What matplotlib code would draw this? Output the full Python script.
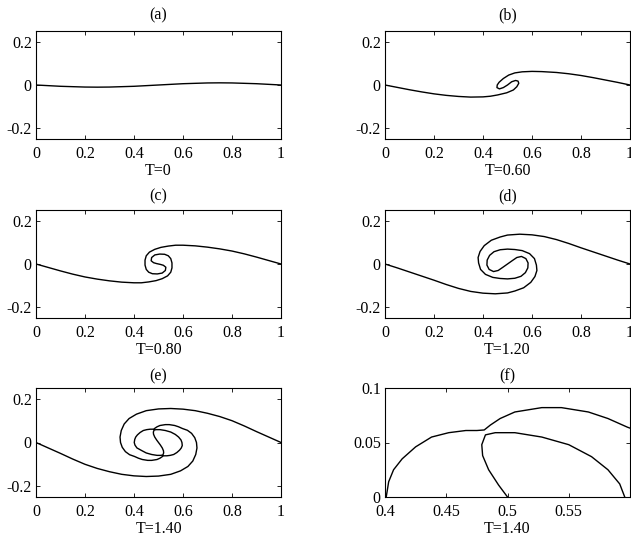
import matplotlib
matplotlib.use("Agg")
import matplotlib.pyplot as plt

# sheet position at each time (x along the sheet, y height)
t000_x = [0, 0.1, 0.2, 0.25, 0.3, 0.4, 0.5, 0.6, 0.7, 0.75, 0.8, 0.9, 1]
t000_y = [0, -0.006, -0.0095, -0.01, -0.0095, -0.006, 0, 0.006, 0.0095, 0.01, 0.0095, 0.006, 0]

t060_x = [0, 0.05, 0.1, 0.15, 0.2, 0.25, 0.3, 0.35, 0.4, 0.43, 0.46, 0.497, 0.524, 0.538,
          0.546, 0.543, 0.533, 0.517, 0.5, 0.483, 0.467, 0.457, 0.458, 0.466, 0.483, 0.505,
          0.53, 0.56, 0.6, 0.64, 0.7, 0.75, 0.8, 0.85, 0.9, 0.95, 1]
t060_y = [0, -0.011, -0.022, -0.032, -0.041, -0.048, -0.053, -0.056, -0.055, -0.052, -0.046,
          -0.036, -0.023, -0.008, 0.008, 0.018, 0.021, 0.015, 0.0, -0.012, -0.018, -0.012, 0.0,
          0.013, 0.03, 0.046, 0.056, 0.061, 0.063, 0.062, 0.058, 0.052, 0.044, 0.034, 0.023,
          0.012, 0]

t080_x = [0, 0.05, 0.1, 0.15, 0.2, 0.25, 0.3, 0.35, 0.4, 0.43, 0.46, 0.49, 0.515, 0.537,
          0.55, 0.555, 0.555, 0.55, 0.54, 0.525, 0.505, 0.485, 0.472, 0.47, 0.48, 0.492, 0.5,
          0.508, 0.52, 0.53, 0.528, 0.515, 0.495, 0.475, 0.46, 0.45, 0.445, 0.445, 0.45,
          0.463, 0.485, 0.51, 0.54, 0.57, 0.6, 0.65, 0.7, 0.75, 0.8, 0.85, 0.9, 0.95, 1]
t080_y = [0, -0.016, -0.032, -0.047, -0.06, -0.07, -0.078, -0.084, -0.087, -0.087, -0.083,
          -0.077, -0.068, -0.055, -0.038, -0.018, 0.005, 0.025, 0.038, 0.045, 0.046, 0.042,
          0.03, 0.015, 0.006, 0.002, 0, -0.002, -0.006, -0.015, -0.03, -0.042, -0.046, -0.045,
          -0.038, -0.025, -0.005, 0.018, 0.038, 0.055, 0.068, 0.077, 0.083, 0.087, 0.087,
          0.084, 0.078, 0.07, 0.06, 0.047, 0.032, 0.016, 0]

t120_x = [0, 0.05, 0.1, 0.15, 0.2, 0.25, 0.3, 0.35, 0.4, 0.45, 0.5, 0.53, 0.566, 0.595,
          0.612, 0.62, 0.618, 0.61, 0.59, 0.56, 0.53, 0.5, 0.47, 0.445, 0.427, 0.417, 0.416,
          0.425, 0.443, 0.462, 0.48, 0.5, 0.52, 0.538, 0.557, 0.575, 0.584, 0.583, 0.573,
          0.555, 0.53, 0.5, 0.47, 0.44, 0.41, 0.39, 0.382, 0.38, 0.388, 0.405, 0.434, 0.47,
          0.5, 0.55, 0.6, 0.65, 0.7, 0.75, 0.8, 0.85, 0.9, 0.95, 1]
t120_y = [0, -0.018, -0.037, -0.056, -0.075, -0.095, -0.113, -0.127, -0.135, -0.138, -0.134,
          -0.125, -0.11, -0.085, -0.058, -0.03, -0.005, 0.025, 0.048, 0.062, 0.067, 0.069,
          0.066, 0.057, 0.04, 0.018, -0.005, -0.025, -0.035, -0.03, -0.016, 0, 0.016, 0.03,
          0.035, 0.025, 0.005, -0.018, -0.04, -0.057, -0.066, -0.069, -0.067, -0.062, -0.048,
          -0.025, 0.005, 0.03, 0.058, 0.085, 0.11, 0.125, 0.134, 0.138, 0.135, 0.127, 0.113,
          0.095, 0.075, 0.056, 0.037, 0.018, 0]

t140_x = [0, 0.05, 0.1, 0.15, 0.2, 0.25, 0.3, 0.35, 0.4, 0.45, 0.5, 0.55, 0.59, 0.62, 0.64,
          0.652, 0.657, 0.655, 0.648, 0.635, 0.618, 0.598,
          0.582, 0.566, 0.544, 0.528, 0.506, 0.494, 0.486, 0.481, 0.475, 0.466, 0.452, 0.438,
          0.425, 0.414, 0.407, 0.403, 0.401,
          0.404, 0.412, 0.4314, 0.45, 0.472, 0.494, 0.51, 0.518, 0.521, 0.5203, 0.5154,
          0.5073, 0.5,
          0.4927, 0.4846, 0.4797, 0.479, 0.482, 0.49, 0.506, 0.528, 0.55, 0.5686, 0.582,
          0.5916, 0.5957,
          0.597, 0.593, 0.586, 0.575, 0.562, 0.548, 0.534, 0.525, 0.519, 0.514, 0.506, 0.494,
          0.472, 0.456, 0.434, 0.418, 0.402,
          0.382, 0.365, 0.352, 0.345, 0.343, 0.348, 0.36, 0.38, 0.41, 0.45, 0.5, 0.55, 0.6,
          0.65, 0.7, 0.75, 0.8, 0.85, 0.9, 0.95, 1]
t140_y = [0, -0.025, -0.05, -0.076, -0.1, -0.119, -0.134, -0.146, -0.153, -0.156, -0.154,
          -0.146, -0.13, -0.11, -0.085, -0.055, -0.025, 0.0, 0.022, 0.042, 0.056, 0.064,
          0.072, 0.078, 0.082, 0.082, 0.078, 0.072, 0.066, 0.0615, 0.061, 0.061, 0.059, 0.055,
          0.046, 0.035, 0.025, 0.014, 0.0,
          -0.012, -0.025, -0.037, -0.048, -0.055, -0.059, -0.059, -0.057, -0.048, -0.038,
          -0.025, -0.011, 0,
          0.011, 0.025, 0.038, 0.048, 0.057, 0.059, 0.059, 0.055, 0.048, 0.037, 0.025, 0.012, 0,
          -0.014, -0.025, -0.035, -0.046, -0.055, -0.059, -0.061, -0.061, -0.0615, -0.066,
          -0.072, -0.078, -0.082, -0.082, -0.078, -0.072, -0.064,
          -0.056, -0.042, -0.022, 0, 0.025, 0.055, 0.085, 0.11, 0.13, 0.146, 0.154, 0.156,
          0.153, 0.146, 0.134, 0.119, 0.1, 0.076, 0.05, 0.025, 0]

panel_tags = ["(a)", "(b)", "(c)", "(d)", "(e)", "(f)"]
time_labels = ["T=0", "T=0.60", "T=0.80", "T=1.20", "T=1.40", "T=1.40"]
full_xticks = [0, 0.2, 0.4, 0.6, 0.8, 1]
full_xlabels = ["0", "0.2", "0.4", "0.6", "0.8", "1"]
full_yticks = [-0.2, 0, 0.2]
full_ylabels = ["-0.2", "0", "0.2"]
zoom_xticks = [0.4, 0.45, 0.5, 0.55]
zoom_xlabels = ["0.4", "0.45", "0.5", "0.55"]
zoom_yticks = [0, 0.05, 0.1]
zoom_ylabels = ["0", "0.05", "0.1"]

plt.rcParams["font.family"] = ["Liberation Serif", "DejaVu Serif"]
plt.rcParams["font.size"] = 11.5

fig = plt.figure(figsize=(6.31, 5.37), dpi=100)
W, H = 631.0, 537.0
cols = [36, 385]
rows = [(31, 139), (210, 318), (388, 497)]
title_pads = [8, 7, 5.5]
aw = 245

curves = [(t000_x, t000_y), (t060_x, t060_y), (t080_x, t080_y),
          (t120_x, t120_y), (t140_x, t140_y), (t140_x, t140_y)]

for i in range(6):
    r, c = divmod(i, 2)
    top, bot = rows[r]
    ax = fig.add_axes([cols[c] / W, 1 - bot / H, aw / W, (bot - top) / H])
    ax.plot(curves[i][0], curves[i][1], color="black", lw=1.0)
    if i < 5:
        ax.set_xlim(0, 1)
        ax.set_ylim(-0.25, 0.25)
        ax.set_xticks(full_xticks, full_xlabels)
        ax.set_yticks(full_yticks, full_ylabels)
    else:
        ax.set_xlim(0.4, 0.6)
        ax.set_ylim(0, 0.1)
        ax.set_xticks(zoom_xticks, zoom_xlabels)
        ax.set_yticks(zoom_yticks, zoom_ylabels)
    ax.tick_params(direction="in", top=True, right=True, length=3, width=0.6, pad=5)
    ax.tick_params(axis="y", pad=3)
    for s in ax.spines.values():
        s.set_linewidth(0.8)
    ax.set_title(panel_tags[i], fontsize=11.5, pad=title_pads[r])
    ax.set_xlabel(time_labels[i], labelpad=1)

fig.savefig("out.png", dpi=100)
